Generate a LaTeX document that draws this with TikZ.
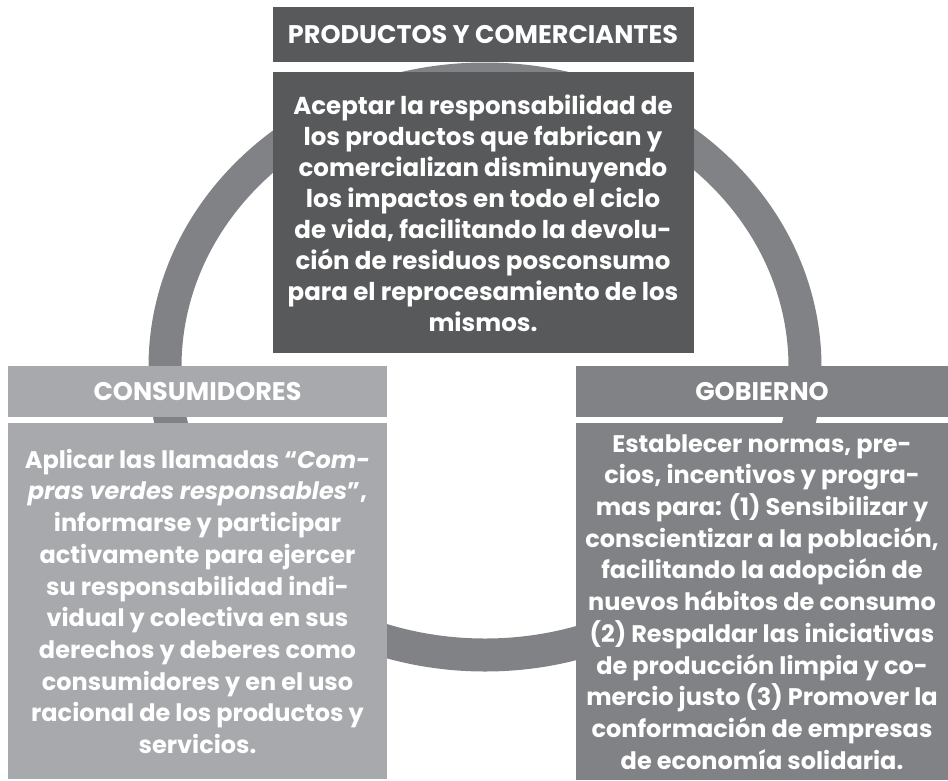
\documentclass[tikz,border=0pt]{standalone}
\usepackage{fontspec}
\setmainfont{Poppins}
\usepackage{tikz}
\usetikzlibrary{positioning}
\definecolor{dk}{HTML}{58595B}
\definecolor{md}{HTML}{808285}
\definecolor{lt}{HTML}{A7A9AC}
\tikzset{
  head/.style={inner sep=0pt, text=white, align=center, font=\fontsize{25.5}{28}\selectfont\bfseries},
  body/.style={inner sep=0pt, text=white, align=center, font=\fontsize{24}{31.7}\selectfont\bfseries},
  ring/.style={draw=md, line width=33pt},
}
\begin{document}
\begin{tikzpicture}[x=1pt, y=-1pt]
  \useasboundingbox (0,0) rectangle (948,780);
  \draw[ring] (485,367) ellipse [x radius=320pt, y radius=288pt];

  \node[head, fill=dk, minimum width=421pt, minimum height=55pt] (pt) at (483,34.5) {PRODUCTOS Y COMERCIANTES};
  \node[body, fill=dk, minimum width=421pt, minimum height=281pt, below=10pt of pt, font=\fontsize{24.5}{31}\selectfont\bfseries] (pb) {Aceptar la responsabilidad de\\los productos que fabrican y\\comercializan disminuyendo\\los impactos en todo el ciclo\\de vida, facilitando la devolu-\\ción de residuos posconsumo\\para el reprocesamiento de los\\mismos.};

  \node[head, fill=lt, minimum width=379pt, minimum height=51pt] (ct) at (197.5,391.5) {CONSUMIDORES};
  \node[body, fill=lt, minimum width=379pt, minimum height=356pt, below=6pt of ct] (cb) {Aplicar las llamadas “\textit{Com-}\\\textit{pras verdes responsables}”,\\informarse y participar\\activamente para ejercer\\su responsabilidad indi-\\vidual y colectiva en sus\\derechos y deberes como\\consumidores y en el uso\\racional de los productos y\\servicios.};

  \node[head, fill=md, minimum width=372pt, minimum height=51pt] (gt) at (762,391.5) {GOBIERNO};
  \node[body, fill=md, minimum width=372pt, minimum height=357pt, below=6pt of gt] (gb) {Establecer normas, pre-\\cios, incentivos y progra-\\mas para: (1) Sensibilizar y\\conscientizar a la población,\\facilitando la adopción de\\nuevos hábitos de consumo\\(2) Respaldar las iniciativas\\de producción limpia y co-\\mercio justo (3) Promover la\\conformación de empresas\\de economía solidaria.};
\end{tikzpicture}
\end{document}
